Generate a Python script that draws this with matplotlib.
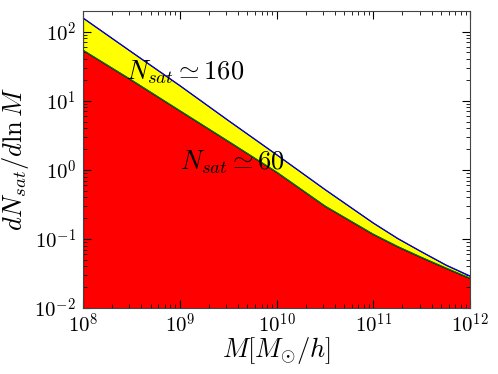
import numpy as np
import matplotlib
matplotlib.use("Agg")
import matplotlib.pyplot as plt
from matplotlib.ticker import FuncFormatter

plt.rcParams['mathtext.fontset'] = 'cm'

# halo mass grid [M_sun/h] and satellite mass functions
mass = [1e8, 10**8.5, 1e9, 10**9.5, 1e10, 10**10.5, 1e11, 10**11.25, 10**11.5, 10**11.75, 1e12]
dn_upper = [158, 51, 16.6, 5.2, 1.66, 0.52, 0.170, 0.102, 0.065, 0.042, 0.029]   # N_sat ~ 160
dn_lower = [54, 20, 7.2, 2.6, 0.93, 0.30, 0.117, 0.078, 0.054, 0.038, 0.027]     # N_sat ~ 60

fig = plt.figure(figsize=(4.98, 3.74), dpi=100)
ax = fig.add_axes([0.1667, 0.1765, 0.7773, 0.7945])

ax.fill_between(mass, 1e-3, dn_lower, facecolor='red', edgecolor='black', linewidth=0.8)
ax.fill_between(mass, dn_lower, dn_upper, facecolor='yellow', edgecolor='black', linewidth=0.8)
ax.plot(mass, dn_upper, color='blue', lw=0.8)
ax.plot(mass, dn_lower, color='green', lw=0.8)

ax.set_xscale('log')
ax.set_yscale('log')
ax.set_xlim(1e8, 1e12)
ax.set_ylim(1e-2, 2e2)

ax.text(2.8e8, 20, r'$N_{sat}\simeq160$', fontsize=19)
ax.text(1.0e9, 1.0, r'$N_{sat}\simeq60$', fontsize=19)

ax.set_xlabel(r'$M[M_{\odot}/h]$', fontsize=19)
ax.set_ylabel(r'$dN_{sat}/d\ln M$', fontsize=19)
ax.xaxis.set_label_coords(0.5, -0.09)
ax.yaxis.set_label_coords(-0.135, 0.5)

fmt = FuncFormatter(lambda v, pos: r'$10^{%d}$' % round(np.log10(v)))
ax.xaxis.set_major_formatter(fmt)
ax.yaxis.set_major_formatter(fmt)
ax.tick_params(which='both', direction='in', top=True, right=True, labelsize=15)
ax.tick_params(which='major', length=6)
ax.tick_params(axis='x', which='major', pad=3)
ax.tick_params(axis='y', which='major', pad=5)
ax.tick_params(which='minor', length=3)
for s in ax.spines.values():
    s.set_color('#444444')

fig.savefig('out.png', dpi=100)
